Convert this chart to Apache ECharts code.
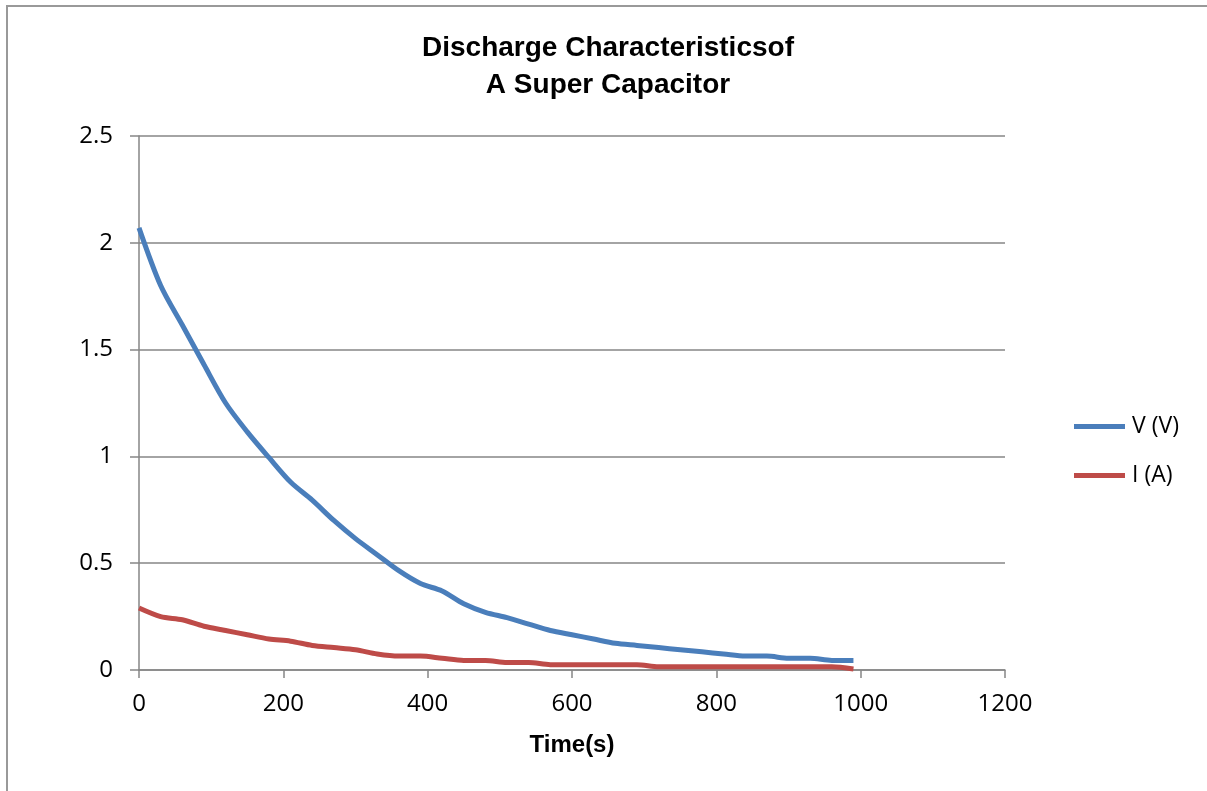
<!DOCTYPE html>
<html><head><meta charset="utf-8">
<script src="https://cdn.jsdelivr.net/npm/echarts@6/dist/echarts.min.js"></script>
<style>html,body{margin:0;padding:0;background:#fff}#c{width:1207px;height:791px}</style>
</head><body><div id="c"></div>
<script>
const times = [0,30,60,90,120,150,180,210,240,270,300,330,360,390,420,450,480,510,540,570,600,630,660,690,720,750,780,810,840,870,900,930,960,990];
const voltage = [2.07,1.80,1.615,1.43,1.25,1.115,0.995,0.88,0.795,0.70,0.615,0.54,0.465,0.405,0.37,0.31,0.27,0.245,0.215,0.185,0.165,0.145,0.125,0.115,0.105,0.095,0.085,0.075,0.065,0.065,0.055,0.055,0.045,0.045];
const current = [0.29,0.25,0.235,0.205,0.185,0.165,0.145,0.135,0.115,0.105,0.095,0.075,0.065,0.065,0.055,0.045,0.045,0.035,0.035,0.025,0.025,0.025,0.025,0.025,0.015,0.015,0.015,0.015,0.015,0.015,0.015,0.015,0.015,0.005];
const seriesNames = ['V (V)','I (A)'];
const titleLines = ['Discharge Characteristicsof','A Super Capacitor'];
const xName = 'Time(s)';

const chart = echarts.init(document.getElementById('c'));
const axisGray = '#868686';
const font = '"Liberation Sans",Arial,sans-serif';
const labFont = '"Open Sans",sans-serif';
chart.setOption({
  animation:false,
  title:{text:titleLines.join('\n'),left:608,top:30,textAlign:'center',padding:0,
    textStyle:{fontFamily:font,fontWeight:'bold',fontSize:28,lineHeight:37,color:'#000'}},
  graphic:[{type:'rect',shape:{x:7,y:6,width:1400,height:1000},style:{fill:'none',stroke:'#999',lineWidth:2},silent:true}],
  grid:{left:139,right:202,top:136,bottom:121,containLabel:false},
  legend:{orient:'vertical',left:1074,top:415,padding:0,itemGap:26,itemWidth:51,itemHeight:5,icon:'rect',
    textStyle:{fontFamily:labFont,fontSize:23,color:'#000',padding:[0,0,0,2]},data:seriesNames},
  xAxis:{type:'value',min:0,max:1200,interval:200,name:xName,nameLocation:'middle',nameGap:63,
    nameTextStyle:{fontFamily:font,fontWeight:'bold',fontSize:24,color:'#000'},
    axisLine:{lineStyle:{color:axisGray,width:1.5}},axisTick:{show:true,length:8,lineStyle:{color:axisGray,width:1.5}},
    axisLabel:{fontFamily:labFont,fontSize:24,color:'#000',margin:22,formatter:v=>String(v)},
    splitLine:{show:false}},
  yAxis:{type:'value',min:0,max:2.5,interval:0.5,
    axisLine:{show:true,lineStyle:{color:axisGray,width:1.5}},axisTick:{show:true,length:9,lineStyle:{color:axisGray,width:1.5}},
    axisLabel:{fontFamily:labFont,fontSize:24,color:'#000',margin:26,formatter:v=>String(v)},
    splitLine:{show:true,lineStyle:{color:axisGray,width:1.5}}},
  series:[
    {name:seriesNames[0],type:'line',data:times.map((t,i)=>[t,voltage[i]]),smooth:0.3,showSymbol:false,
      lineStyle:{color:'#4a7ebb',width:5},itemStyle:{color:'#4a7ebb'}},
    {name:seriesNames[1],type:'line',data:times.map((t,i)=>[t,current[i]]),smooth:0.3,showSymbol:false,
      lineStyle:{color:'#be4b48',width:5},itemStyle:{color:'#be4b48'}}
  ]
});
</script></body></html>
